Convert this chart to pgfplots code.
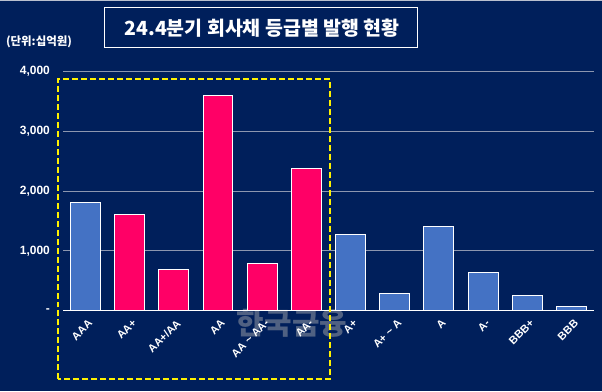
\documentclass[border=0pt]{standalone}
\usepackage{fontspec}
\setmainfont{Liberation Sans}
\newfontfamily\kr{Noto Sans CJK KR}
\usepackage{pgfplots}
\pgfplotsset{compat=1.18}
\definecolor{bg}{RGB}{0,31,91}
\definecolor{lblue}{RGB}{68,114,196}
\definecolor{pinkbar}{RGB}{255,0,102}
\definecolor{gridc}{RGB}{140,150,175}
\begin{document}
\begin{tikzpicture}
\fill[bg] (0pt,0pt) rectangle (602pt,392pt);
\draw[gridc!60, line width=1pt] (0pt,391.5pt) -- (602pt,391.5pt);
% title
\draw[white, line width=1pt] (104pt,344pt) rectangle (418pt,384pt);
\node[white, font=\kr\bfseries\fontsize{19.5}{22}\selectfont] at (262pt,364pt) {24.4분기 회사채 등급별 발행 현황};
\node[white, font=\kr\bfseries\fontsize{11.5}{13}\selectfont, anchor=west] at (2pt,350pt) {(단위:십억원)};
% watermark
\node[gray!60, opacity=0.45, font=\kr\bfseries\fontsize{30}{32}\selectfont] at (292pt,68pt) {한국금융};
\begin{axis}[
  at={(63pt,80.7pt)}, anchor=south west,
  scale only axis, width=531pt, height=240pt,
  xmin=-0.5, xmax=11.5, ymin=0, ymax=4000,
  axis x line*=bottom, axis y line*=left,
  x axis line style={white, line width=0.8pt, -},
  y axis line style={draw=none},
  major tick length=0pt,
  xtick={0,...,11},
  xticklabels={\textbf{AAA},\textbf{AA+},\textbf{AA+/AA},\textbf{AA},\textbf{AA \textasciitilde{} AA-},\textbf{AA-},\textbf{A+},\textbf{A+ \textasciitilde{} A},\textbf{A},\textbf{A-},\textbf{BBB+},\textbf{BBB}},
  xticklabel style={white, font=\fontsize{11}{13}\selectfont, rotate=45, anchor=north east, inner sep=1pt, yshift=-6pt, xshift=-3pt},
  ytick={0,1000,2000,3000,4000},
  yticklabels={\textbf{-},\textbf{1,000},\textbf{2,000},\textbf{3,000},\textbf{4,000}},
  yticklabel style={white, font=\fontsize{12}{14}\selectfont, xshift=-10pt},
  ymajorgrids, grid style={gridc, line width=0.8pt},
  clip=false,
]
\addplot[ybar, bar width=30pt, bar shift=0pt, fill=lblue, draw=white, line width=1pt]
  coordinates {(0,1800) (6,1270) (7,285) (8,1400) (9,635) (10,252) (11,75)};
\addplot[ybar, bar width=30pt, bar shift=0pt, fill=pinkbar, draw=white, line width=1pt]
  coordinates {(1,1600) (2,685) (3,3590) (4,785) (5,2368)};
\end{axis}
\draw[yellow, line width=2pt, dash pattern=on 6pt off 3pt] (58pt,12pt) rectangle (330pt,313pt);
\end{tikzpicture}
\end{document}
